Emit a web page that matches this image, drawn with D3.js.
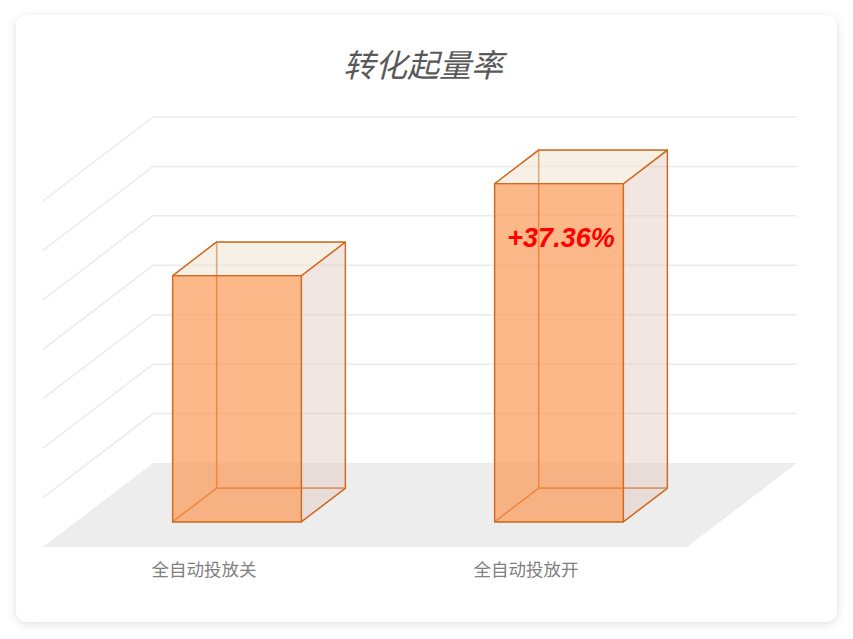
<!DOCTYPE html>
<html>
<head>
<meta charset="utf-8">
<script src="https://cdn.jsdelivr.net/npm/d3@7"></script>
<style>
  html, body { margin: 0; padding: 0; background: #fff; }
  svg { display: block; }
</style>
</head>
<body>
<div id="chart"></div>
<script>
const categories = ['全自动投放关', '全自动投放开']
const values = [4.98, 6.84]
const gridTicks = [0, 1, 2, 3, 4, 5, 6, 7]
const title = '转化起量率'
const changeLabel = '+37.36%'

const W = 853, H = 639
// floor: front edge y, depth offset (back wall is up/right of front)
const floor = { left: 43, right: 687, front: 547, dx: 110, dy: 84 }
const wallTop = 117

const svg = d3.select('#chart').append('svg')
  .attr('width', W)
  .attr('height', H)

const defs = svg.append('defs')
const shadow = defs.append('filter')
  .attr('id', 'shadow')
  .attr('x', '-10%').attr('y', '-10%')
  .attr('width', '120%').attr('height', '120%')
shadow.append('feDropShadow')
  .attr('dx', 0).attr('dy', 2)
  .attr('stdDeviation', 5)
  .attr('flood-color', '#000')
  .attr('flood-opacity', 0.13)

// card
svg.append('rect')
  .attr('x', 16).attr('y', 15)
  .attr('width', 821).attr('height', 607)
  .attr('rx', 12)
  .attr('fill', '#fff')
  .attr('filter', 'url(#shadow)')

svg.append('text')
  .attr('x', 423).attr('y', 77)
  .attr('text-anchor', 'middle')
  .attr('font-family', '"Noto Sans CJK SC", sans-serif')
  .attr('font-style', 'italic')
  .attr('font-size', 32)
  .attr('fill', '#595959')
  .text(title)

// scales
const x = d3.scaleBand()
  .domain(categories)
  .range([floor.left, floor.right])
  .paddingInner(0.6)
  .paddingOuter(0.3)

const backFloor = floor.front - floor.dy
const y = d3.scaleLinear()
  .domain([0, d3.max(gridTicks)])
  .range([0, backFloor - wallTop])

// depth 0 = front edge, 1 = back wall
const proj = (px, depth, h) => [px + depth * floor.dx, floor.front - depth * floor.dy - h]
const poly = pts => 'M' + pts.map(p => p.join(',')).join('L') + 'Z'

// floor
svg.append('path')
  .attr('d', poly([
    proj(floor.left, 0, 0), proj(floor.right, 0, 0),
    proj(floor.right, 1, 0), proj(floor.left, 1, 0)
  ]))
  .attr('fill', '#ededed')

// gridlines: side diagonal + back wall
svg.append('g').selectAll('path')
  .data(gridTicks.slice(1))
  .join('path')
    .attr('d', d => {
      const a = proj(floor.left, 0, y(d))
      const b = proj(floor.left, 1, y(d))
      const c = proj(floor.right, 1, y(d))
      return `M${a}L${b}L${c}`
    })
    .attr('fill', 'none')
    .attr('stroke', '#ebebeb')
    .attr('stroke-width', 1.5)

// bars
const d0 = 0.3, d1 = 0.7
const stroke = '#d2691e'
const bars = svg.append('g').selectAll('g')
  .data(categories.map((c, i) => ({ c, v: values[i] })))
  .join('g')

bars.each(function (d) {
  const g = d3.select(this)
  const xl = x(d.c), xr = x(d.c) + x.bandwidth(), h = y(d.v)
  const faces = [
    // back, left, bottom: edges only (seen through)
    { pts: [proj(xl, d1, 0), proj(xr, d1, 0), proj(xr, d1, h), proj(xl, d1, h)], fill: 'none' },
    { pts: [proj(xl, d0, 0), proj(xl, d1, 0), proj(xl, d1, h), proj(xl, d0, h)], fill: 'none' },
    { pts: [proj(xl, d0, 0), proj(xr, d0, 0), proj(xr, d1, 0), proj(xl, d1, 0)], fill: 'none' },
    // right side
    { pts: [proj(xr, d0, 0), proj(xr, d1, 0), proj(xr, d1, h), proj(xr, d0, h)], fill: 'rgba(224,200,190,0.45)' },
    // top
    { pts: [proj(xl, d0, h), proj(xr, d0, h), proj(xr, d1, h), proj(xl, d1, h)], fill: 'rgba(240,225,205,0.5)' },
    // front
    { pts: [proj(xl, d0, 0), proj(xr, d0, 0), proj(xr, d0, h), proj(xl, d0, h)], fill: 'rgba(250,150,80,0.68)' }
  ]
  g.selectAll('path')
    .data(faces)
    .join('path')
      .attr('d', f => poly(f.pts))
      .attr('fill', f => f.fill)
      .attr('stroke', stroke)
      .attr('stroke-width', 1.3)
      .attr('stroke-linejoin', 'round')
})

// category labels
svg.append('g').selectAll('text')
  .data(categories)
  .join('text')
    .attr('x', d => x(d) + x.bandwidth() / 2)
    .attr('y', 576)
    .attr('text-anchor', 'middle')
    .attr('font-family', '"Noto Sans CJK SC", sans-serif')
    .attr('font-size', 17.5)
    .attr('fill', '#7f7f7f')
    .text(d => d)

// change label on the second bar
const last = categories[categories.length - 1]
const lp = proj(x(last) + x.bandwidth() / 2, d0, y(values[values.length - 1]))
svg.append('text')
  .attr('x', lp[0] + 2)
  .attr('y', lp[1] + 63)
  .attr('text-anchor', 'middle')
  .attr('font-family', '"Liberation Sans", Arial, sans-serif')
  .attr('font-weight', 'bold')
  .attr('font-style', 'italic')
  .attr('font-size', 27)
  .attr('fill', '#ff0000')
  .text(changeLabel)
</script>
</body>
</html>
